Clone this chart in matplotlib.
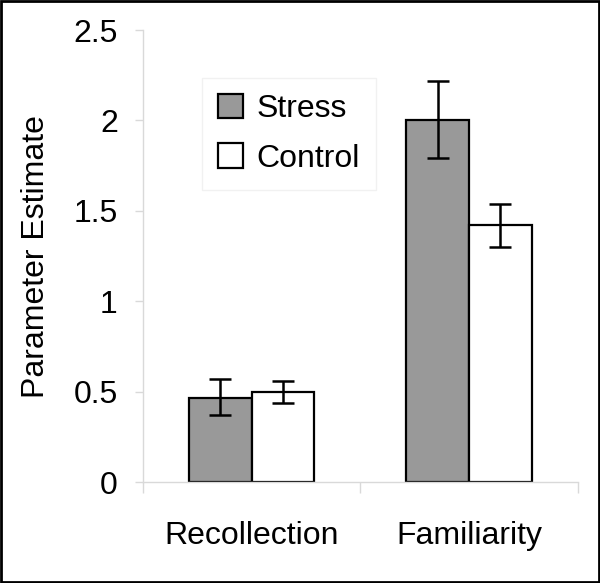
import matplotlib
matplotlib.use("Agg")
import matplotlib.pyplot as plt
import numpy as np
from matplotlib.patches import Rectangle

categories = ["Recollection", "Familiarity"]
series_names = ["Stress", "Control"]
stress_vals = [0.463, 2.005]
stress_err_lo = [0.093, 0.215]
stress_err_hi = [0.108, 0.213]
control_vals = [0.50, 1.421]
control_err_lo = [0.06, 0.121]
control_err_hi = [0.06, 0.117]
yticks = [0, 0.5, 1, 1.5, 2, 2.5]
ytick_labels = ["0", "0.5", "1", "1.5", "2", "2.5"]

plt.rcParams['font.family'] = ['Liberation Sans', 'DejaVu Sans']

fig = plt.figure(figsize=(6.0, 5.83), dpi=100)
ax = fig.add_axes([0.238, 0.173, 0.725, 0.7755])

x = np.arange(len(categories))
w = 0.288
light = "#d9d9d9"
fs = 23
ekw = dict(elinewidth=1.8, capthick=1.8, ecolor="black")
ax.bar(x - w/2, stress_vals, w, color="#999999", edgecolor="black", linewidth=1.6,
       yerr=[stress_err_lo, stress_err_hi], capsize=8, error_kw=ekw, label=series_names[0], zorder=2)
ax.bar(x + w/2, control_vals, w, color="white", edgecolor="black", linewidth=1.6,
       yerr=[control_err_lo, control_err_hi], capsize=8, error_kw=ekw, label=series_names[1], zorder=2)

ax.set_xlim(-0.5, 1.5)
ax.set_ylim(0, 2.5)
ax.set_yticks(yticks)
ax.set_yticklabels(ytick_labels, fontsize=fs)
ax.set_xticks(x)
ax.set_xticklabels(categories, fontsize=fs)
ax.set_xticks([-0.5, 0.5, 1.5], minor=True)
ax.tick_params(axis='x', which='major', length=0, pad=28)
ax.tick_params(axis='x', which='minor', length=8, color=light, width=1)
ax.tick_params(axis='y', which='major', length=6, color=light, width=1, pad=12)

for s in ["top", "right"]:
    ax.spines[s].set_visible(False)
for s in ["left", "bottom"]:
    ax.spines[s].set_color(light)
    ax.spines[s].set_linewidth(1)

ax.set_ylabel("Parameter Estimate", fontsize=fs, labelpad=16)

leg = ax.legend(loc="upper left", bbox_to_anchor=(0.136, 0.894), borderaxespad=0, fontsize=fs,
                frameon=True, fancybox=False, edgecolor="#eeeeee",
                handlelength=0.8, handleheight=0.8, handletextpad=0.4,
                labelspacing=0.6, borderpad=0.5)
leg.get_frame().set_linewidth(1)

fig.patches.append(Rectangle((0.002, 0.002), 0.996, 0.996, transform=fig.transFigure,
                             fill=False, edgecolor="black", linewidth=2))

fig.savefig("out.png", dpi=100)
